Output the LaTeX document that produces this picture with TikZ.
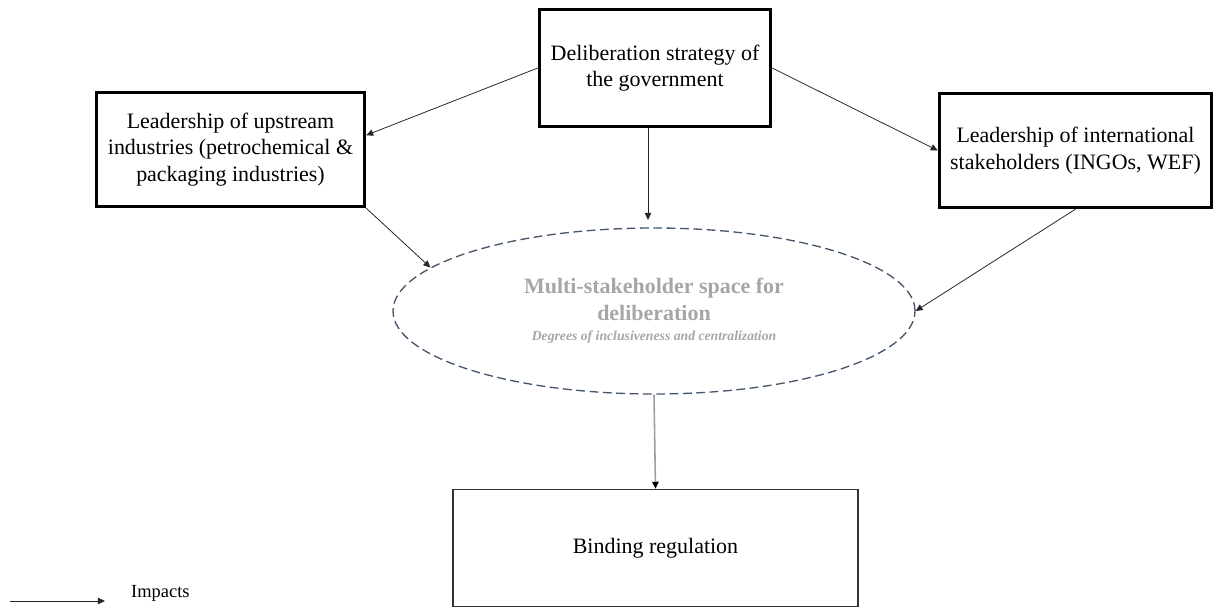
\documentclass[tikz,border=0pt]{standalone}
\usepackage{fontspec}
\setmainfont{Liberation Serif}
\usetikzlibrary{arrows.meta,positioning,shapes.geometric}
\definecolor{forumline}{HTML}{44546A}
\definecolor{forumtext}{HTML}{A6A6A6}

\begin{document}
\begin{tikzpicture}[
  lead/.style={rectangle, draw, line width=1.9pt, align=center,
    font=\fontsize{12.5}{15}\selectfont},
  goal/.style={rectangle, draw=black!80, line width=0.8pt, align=center,
    minimum width=8.1cm, minimum height=2.34cm,
    font=\fontsize{12.5}{15}\selectfont},
  forum/.style={ellipse, draw=forumline, line width=0.75pt,
    dash pattern=on 5pt off 2.6pt, minimum width=10.44cm,
    minimum height=3.32cm, align=center, text=forumtext,
    font=\fontsize{12.5}{15.5}\selectfont\bfseries},
  arr/.style={-{Triangle[length=4pt,width=3.6pt]}, line width=0.45pt, draw=black!85}
]
\useasboundingbox (0,0) rectangle (24.32,-12.16);

% Top
\node[lead, minimum width=4.62cm, minimum height=2.34cm] (gov) at (13.10,-1.36)
  {Deliberation strategy of\\the government};

% Leaders
\node[lead, minimum width=5.36cm, minimum height=2.28cm] (upstream) at (4.61,-2.99)
  {Leadership of upstream\\industries (petrochemical \&\\packaging industries)};
\node[lead, minimum width=5.44cm, minimum height=2.28cm] (intl) at (21.51,-3.01)
  {Leadership of international\\stakeholders (INGOs, WEF)};

\draw[arr] (gov.west) -- (upstream.6);
\draw[arr] (gov.east) -- (intl.west);

% Deliberation space
\node[forum] (delib) at (13.08,-6.22)
  {Multi-stakeholder space for\\deliberation\\[-4pt]
   {\fontsize{7.8}{9}\selectfont\itshape Degrees of inclusiveness and centralization}};

\coordinate (govend) at (12.96,-4.40);
\draw[arr] (gov.south -| govend) -- (govend);
\draw[arr] (upstream.south east) -- (delib.169.1);
\draw[arr] (intl.south) -- (delib.east);

% Outcome
\node[goal] (bind) at (13.11,-10.96) {Binding regulation};
\draw[arr, draw=black!38, line width=0.9pt, -{Triangle[length=4pt,width=3.6pt,black]}] (delib.south) -- (bind.north);

% Legend
\coordinate (legA) at (0.20,-12.02);
\coordinate (legB) at (2.10,-12.02);
\draw[arr] (legA) -- (legB);
\node[anchor=west, font=\fontsize{10.5}{12}\selectfont] (legtxt) at (2.50,-11.86) {Impacts};

\end{tikzpicture}
\end{document}
